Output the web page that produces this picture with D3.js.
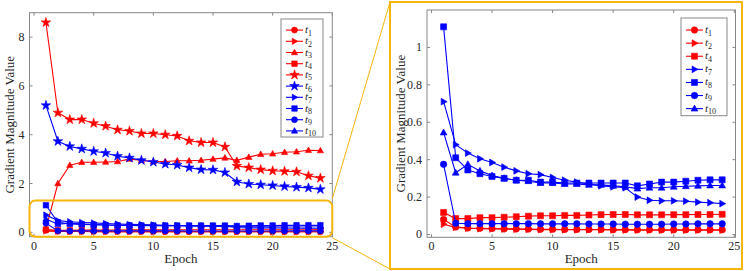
<!doctype html>
<html lang="en">
<head>
  <meta charset="utf-8">
  <title>Gradient magnitude</title>
  <style>
  body { margin: 0; background: #fff; }
  svg { display: block; }
  text { font-family: "Liberation Serif", "Times New Roman", Times, serif; }
  .frame { fill: none; stroke: #888; stroke-width: 1; }
  .tick-label { font-size: 12px; fill: #262626; }
  .axis-label { font-size: 13px; fill: #262626; }
  .legend-box { fill: #fff; stroke: #888; }
  .legend-text { font-size: 11px; font-style: italic; fill: #262626; }
  </style>
</head>
<body>
  <div id="chart"></div>
  <script src="https://d3js.org/d3.v7.min.js"></script>
  <script>
(function() {

  var epochs = d3.range(1, 25);
  var names = ["t1", "t2", "t3", "t4", "t5", "t6", "t7", "t8", "t9", "t10"];
  var colors = ["#ff0000", "#ff0000", "#ff0000", "#ff0000", "#ff0000",
                "#0000ff", "#0000ff", "#0000ff", "#0000ff", "#0000ff"];
  var markers = ["circle", "right", "up", "square", "star",
                 "star", "right", "square", "circle", "up"];

  var t1 = [0.08, 0.04, 0.035, 0.033, 0.032, 0.03, 0.03, 0.029, 0.028, 0.028, 0.027, 0.027,
            0.027, 0.027, 0.026, 0.026, 0.025, 0.025, 0.025, 0.025, 0.025, 0.025, 0.025, 0.025];
  var t2 = [0.055, 0.038, 0.033, 0.031, 0.03, 0.029, 0.028, 0.027, 0.026, 0.026, 0.025, 0.025,
            0.025, 0.025, 0.024, 0.024, 0.023, 0.023, 0.023, 0.023, 0.023, 0.023, 0.023, 0.023];
  var t3 = [0.15, 2.0, 2.75, 2.87, 2.87, 2.88, 2.9, 3.0, 2.95, 2.9, 2.9, 2.93,
            2.93, 2.95, 3.0, 3.05, 2.95, 3.08, 3.2, 3.22, 3.28, 3.3, 3.36, 3.35];
  var t4 = [0.118, 0.085, 0.085, 0.09, 0.09, 0.092, 0.095, 0.098, 0.1, 0.1, 0.102, 0.102,
            0.104, 0.106, 0.107, 0.107, 0.105, 0.105, 0.105, 0.106, 0.106, 0.107, 0.107, 0.108];
  var t5 = [8.6, 4.9, 4.62, 4.62, 4.47, 4.35, 4.2, 4.15, 4.05, 4.05, 4.0, 3.95,
            3.75, 3.68, 3.68, 3.5, 2.72, 2.65, 2.57, 2.52, 2.5, 2.48, 2.32, 2.22];
  var t6 = [5.2, 3.73, 3.52, 3.42, 3.32, 3.25, 3.12, 3.05, 2.95, 2.88, 2.8, 2.76,
            2.65, 2.57, 2.56, 2.45, 2.07, 1.98, 1.95, 1.92, 1.88, 1.85, 1.82, 1.76];
  var t7 = [0.71, 0.48, 0.435, 0.405, 0.385, 0.36, 0.34, 0.325, 0.32, 0.305, 0.29, 0.28,
            0.27, 0.26, 0.255, 0.25, 0.2, 0.183, 0.18, 0.18, 0.178, 0.173, 0.17, 0.165];
  var t8 = [1.11, 0.41, 0.345, 0.325, 0.31, 0.3, 0.29, 0.29, 0.28, 0.28, 0.275, 0.275,
            0.275, 0.275, 0.275, 0.275, 0.26, 0.27, 0.28, 0.28, 0.285, 0.29, 0.292, 0.292];
  var t9 = [0.375, 0.06, 0.058, 0.058, 0.058, 0.058, 0.058, 0.058, 0.057, 0.057, 0.057, 0.057,
            0.056, 0.056, 0.056, 0.055, 0.055, 0.055, 0.055, 0.056, 0.056, 0.057, 0.057, 0.057];
  var t10 = [0.545, 0.33, 0.375, 0.34, 0.315, 0.3, 0.29, 0.285, 0.275, 0.275, 0.27, 0.27,
             0.265, 0.265, 0.26, 0.255, 0.245, 0.25, 0.25, 0.255, 0.258, 0.26, 0.262, 0.262];
  var series = [t1, t2, t3, t4, t5, t6, t7, t8, t9, t10];

  var xTicks = [0, 5, 10, 15, 20, 25];
  var leftYTicks = [0, 2, 4, 6, 8];
  var rightYTicks = [0, 0.2, 0.4, 0.6, 0.8, 1];
  var rightSeries = [0, 1, 3, 6, 7, 8, 9]; // indices shown in the zoom panel

  var width = 747, height = 271;
  var gold = "#f5b50a";

  var svg = d3.select("#chart").append("svg")
      .attr("width", width)
      .attr("height", height);

  function markerPath(type, size) {
    var r = size / 2;
    if (type === "circle") return d3.symbol(d3.symbolCircle, Math.PI * r * r)();
    if (type === "square") return d3.symbol(d3.symbolSquare, size * size * 0.85)();
    if (type === "star") return d3.symbol(d3.symbolStar, size * size * 0.8)();
    if (type === "up") {
      return "M0," + (-r * 1.1) + "L" + (r * 1.05) + "," + (r * 0.75) + "L" + (-r * 1.05) + "," + (r * 0.75) + "Z";
    }
    // right-pointing triangle
    return "M" + (r * 1.1) + ",0L" + (-r * 0.75) + "," + (r * 1.05) + "L" + (-r * 0.75) + "," + (-r * 1.05) + "Z";
  }

  function drawPanel(opts) {
    var x = d3.scaleLinear().domain(opts.xDomain).range([opts.left, opts.right]);
    var y = d3.scaleLinear().domain(opts.yDomain).range([opts.bottom, opts.top]);
    var g = svg.append("g");

    g.append("rect")
      .attr("x", opts.left).attr("y", opts.top)
      .attr("width", opts.right - opts.left)
      .attr("height", opts.bottom - opts.top)
      .attr("fill", "#fff");

    var line = d3.line()
      .x(function(d, i) { return x(epochs[i]); })
      .y(function(d) { return y(d); });

    var clipId = "clip" + opts.id;
    svg.append("clipPath").attr("id", clipId).append("rect")
      .attr("x", opts.left).attr("y", opts.top)
      .attr("width", opts.right - opts.left)
      .attr("height", opts.bottom - opts.top);

    var plot = g.append("g").attr("clip-path", "url(#" + clipId + ")");

    opts.indices.forEach(function(k) {
      var s = plot.append("g");
      s.append("path")
        .attr("d", line(series[k]))
        .attr("fill", "none")
        .attr("stroke", colors[k])
        .attr("stroke-width", 1.1);
      s.selectAll("path.m")
        .data(series[k])
        .enter().append("path")
        .attr("class", "m")
        .attr("transform", function(d, i) { return "translate(" + x(epochs[i]) + "," + y(d) + ")"; })
        .attr("d", markerPath(markers[k], opts.marker))
        .attr("fill", colors[k])
        .attr("stroke", colors[k])
        .attr("stroke-width", 0.6);
    });

    // box with inward ticks, MATLAB style
    g.append("rect").attr("class", "frame")
      .attr("x", opts.left).attr("y", opts.top)
      .attr("width", opts.right - opts.left)
      .attr("height", opts.bottom - opts.top);

    var tl = 3;
    xTicks.forEach(function(v) {
      var px = x(v);
      g.append("line").attr("x1", px).attr("x2", px).attr("y1", opts.bottom).attr("y2", opts.bottom - tl).attr("stroke", "#888");
      g.append("line").attr("x1", px).attr("x2", px).attr("y1", opts.top).attr("y2", opts.top + tl).attr("stroke", "#888");
      g.append("text").attr("class", "tick-label")
        .attr("x", px).attr("y", opts.bottom + 13)
        .attr("text-anchor", "middle")
        .text(v);
    });
    opts.yTicks.forEach(function(v) {
      var py = y(v);
      g.append("line").attr("x1", opts.left).attr("x2", opts.left + tl).attr("y1", py).attr("y2", py).attr("stroke", "#888");
      g.append("line").attr("x1", opts.right).attr("x2", opts.right - tl).attr("y1", py).attr("y2", py).attr("stroke", "#888");
      g.append("text").attr("class", "tick-label")
        .attr("x", opts.left - 5).attr("y", py + 4)
        .attr("text-anchor", "end")
        .text(v);
    });

    g.append("text").attr("class", "axis-label")
      .attr("x", (opts.left + opts.right) / 2).attr("y", opts.bottom + 26)
      .attr("text-anchor", "middle")
      .text("Epoch");
    g.append("text").attr("class", "axis-label")
      .attr("transform", "translate(" + opts.yLabelX + "," + ((opts.top + opts.bottom) / 2) + ") rotate(-90)")
      .attr("text-anchor", "middle")
      .text("Gradient Magnitude Value");

    // legend
    var lg = g.append("g");
    var L = opts.legend;
    lg.append("rect").attr("class", "legend-box")
      .attr("x", L.x).attr("y", L.y)
      .attr("width", L.w).attr("height", L.step * opts.indices.length + 6);
    opts.indices.forEach(function(k, j) {
      var cy = L.y + 6 + L.step * (j + 0.5) - 0.5;
      lg.append("line")
        .attr("x1", L.x + 5).attr("x2", L.x + 22)
        .attr("y1", cy).attr("y2", cy)
        .attr("stroke", colors[k]).attr("stroke-width", 1.1);
      lg.append("path")
        .attr("transform", "translate(" + (L.x + 13.5) + "," + cy + ")")
        .attr("d", markerPath(markers[k], opts.marker))
        .attr("fill", colors[k]).attr("stroke", colors[k]).attr("stroke-width", 0.6);
      var t = lg.append("text").attr("class", "legend-text")
        .attr("x", L.x + 24).attr("y", cy + 3);
      t.append("tspan").text("t");
      t.append("tspan").attr("dy", 2.5).attr("font-size", "8px").attr("font-style", "normal")
        .text(names[k].slice(1));
    });

    return { x: x, y: y };
  }

  // left panel: all series
  var leftPanel = drawPanel({
    id: "L", left: 29.5, right: 332.3, top: 12.7, bottom: 236.7,
    xDomain: [-0.38, 25], yDomain: [-0.18, 9],
    yTicks: leftYTicks, indices: d3.range(10), marker: 6, yLabelX: 14,
    legend: { x: 281, y: 19, w: 42, step: 11.2 }
  });

  // right panel: zoom of the small series
  svg.append("rect")
    .attr("x", 390).attr("y", 2)
    .attr("width", 352).attr("height", 267)
    .attr("fill", "#fff")
    .attr("stroke", gold).attr("stroke-width", 2);

  drawPanel({
    id: "R", left: 427, right: 735.5, top: 10, bottom: 237.3,
    xDomain: [-0.37, 25.1], yDomain: [-0.015, 1.2],
    yTicks: rightYTicks, indices: rightSeries, marker: 6.5, yLabelX: 405,
    legend: { x: 681, y: 18, w: 46, step: 13.1 }
  });

  // highlight box on the left panel and connector lines
  var hx = leftPanel.x, hy = leftPanel.y;
  var bx0 = hx(-0.38), bx1 = hx(25), by0 = hy(1.3), by1 = hy(-0.18);
  svg.append("rect")
    .attr("x", bx0).attr("y", by0)
    .attr("width", bx1 - bx0).attr("height", by1 - by0)
    .attr("rx", 6).attr("ry", 6)
    .attr("fill", "none")
    .attr("stroke", gold).attr("stroke-width", 2);

  svg.append("line")
    .attr("x1", bx1).attr("y1", by0 - 2).attr("x2", 390).attr("y2", 2)
    .attr("stroke", gold).attr("stroke-width", 1);
  svg.append("line")
    .attr("x1", bx1).attr("y1", by1 + 1).attr("x2", 390).attr("y2", 269)
    .attr("stroke", gold).attr("stroke-width", 1);

})();
  </script>
</body>
</html>
